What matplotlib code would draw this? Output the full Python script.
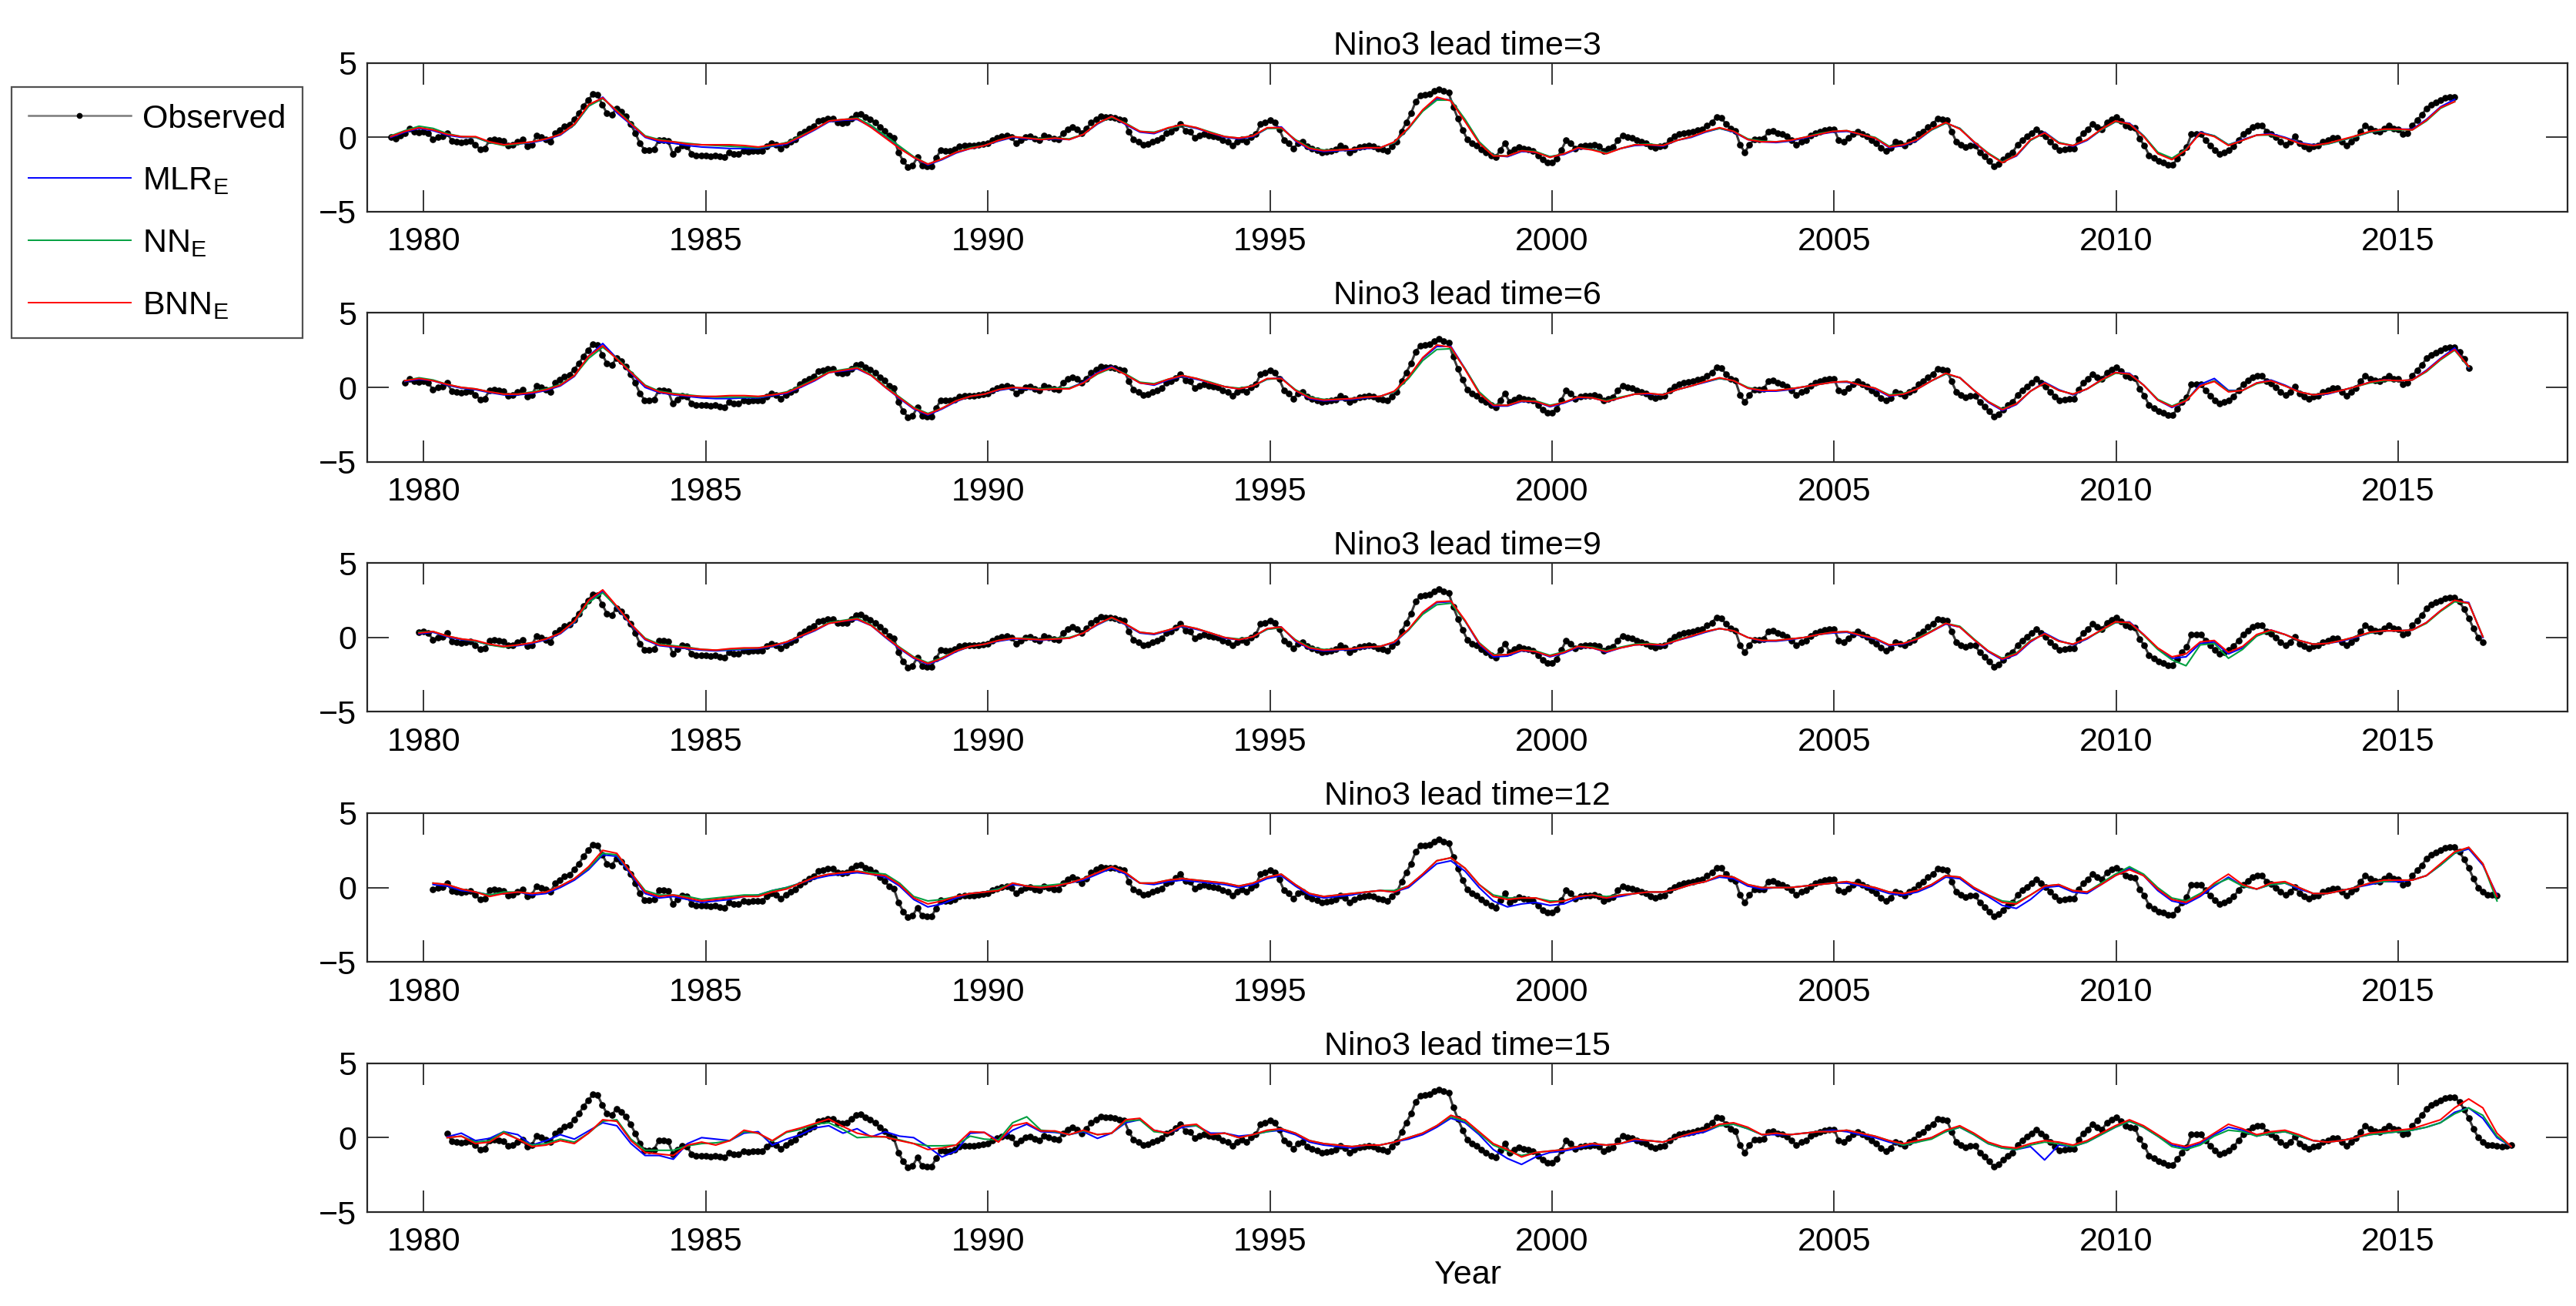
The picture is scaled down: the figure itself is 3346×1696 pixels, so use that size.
import numpy as np
import matplotlib
matplotlib.use("Agg")
import matplotlib.pyplot as plt
from matplotlib.lines import Line2D

plt.rcParams['font.family'] = ['Liberation Sans', 'DejaVu Sans']
plt.rcParams['mathtext.fontset'] = 'custom'
plt.rcParams['mathtext.rm'] = 'Liberation Sans'
plt.rcParams['mathtext.it'] = 'Liberation Sans:italic'

# ---------------- data ----------------
obs_start = 1979 + 5 / 12.0   # June 1979
n_months = 440                # months shown per panel
lead_times = [3, 6, 9, 12, 15]
xtick_years = [1980, 1985, 1990, 1995, 2000, 2005, 2010, 2015]
ytick_vals = [-5, 0, 5]

observed = [
    0.0, -0.1, 0.1, 0.3, 0.6, 0.4, 0.35,
    0.4, 0.3, -0.15, 0.0, 0.05, 0.3, -0.25, -0.3, -0.35, -0.3, -0.25, -0.5,
    -0.8, -0.75, -0.2, -0.15, -0.2, -0.25, -0.55, -0.5, -0.3, -0.15, -0.6, -0.5,
    0.1, 0.0, -0.15, -0.3, 0.3, 0.5, 0.75, 0.85, 1.2, 1.6, 2.1, 2.5,
    2.9, 2.85, 2.2, 1.6, 1.5, 1.95, 1.75, 1.4, 0.9, 0.3, -0.4, -0.85,
    -0.85, -0.8, -0.2, -0.2, -0.25, -1.1, -0.8, -0.55, -0.6, -1.1, -1.2, -1.2,
    -1.2, -1.25, -1.2, -1.3, -1.35, -1.0, -1.1, -1.1, -0.9, -0.95, -0.9, -0.9,
    -0.9, -0.6, -0.4, -0.5, -0.75, -0.5, -0.3, -0.15, 0.2, 0.4, 0.6, 0.75,
    1.1, 1.15, 1.25, 1.25, 1.0, 0.95, 1.0, 1.25, 1.5, 1.55, 1.35, 1.2,
    1.0, 0.7, 0.45, 0.1, -0.05, -1.0, -1.6, -2.0, -1.9, -1.35, -1.9, -1.95,
    -1.95, -1.4, -0.85, -0.9, -0.9, -0.8, -0.6, -0.55, -0.55, -0.55, -0.5, -0.45,
    -0.4, -0.2, -0.05, 0.05, 0.1, 0.0, -0.4, -0.2, 0.0, 0.05, -0.1, -0.2,
    0.1, 0.0, -0.1, -0.15, 0.3, 0.55, 0.7, 0.55, 0.3, 0.6, 1.0, 1.2,
    1.4, 1.35, 1.35, 1.3, 1.2, 1.15, 0.4, -0.15, -0.3, -0.5, -0.45, -0.3,
    -0.2, -0.05, 0.3, 0.4, 0.65, 0.9, 0.45, 0.4, -0.05, 0.1, 0.2, 0.1,
    0.05, 0.0, -0.2, -0.3, -0.55, -0.3, -0.15, -0.3, 0.0, 0.2, 0.9, 1.0,
    1.15, 1.0, 0.55, -0.2, -0.4, -0.75, -0.4, -0.3, -0.6, -0.75, -0.85, -1.0,
    -0.95, -0.9, -0.8, -0.55, -0.7, -1.0, -0.8, -0.65, -0.6, -0.55, -0.6, -0.75,
    -0.8, -0.9, -0.6, -0.3, 0.4, 1.0, 1.6, 2.4, 2.8, 2.85, 2.9, 3.1,
    3.25, 3.1, 3.0, 2.05, 1.25, 0.5, -0.15, -0.4, -0.55, -0.8, -1.0, -1.2,
    -1.35, -0.85, -0.4, -1.0, -0.8, -0.65, -0.75, -0.8, -0.9, -1.2, -1.5, -1.7,
    -1.7, -1.45, -0.85, -0.2, -0.4, -0.75, -0.6, -0.55, -0.55, -0.5, -0.6, -0.9,
    -0.75, -0.65, -0.2, 0.1, 0.0, -0.05, -0.2, -0.3, -0.4, -0.6, -0.7, -0.6,
    -0.55, -0.2, 0.05, 0.2, 0.3, 0.35, 0.4, 0.5, 0.55, 0.8, 1.0, 1.35,
    1.3, 0.9, 0.6, 0.45, -0.5, -1.0, -0.5, -0.15, -0.15, -0.1, 0.4, 0.45,
    0.3, 0.2, 0.05, -0.2, -0.5, -0.3, -0.2, 0.1, 0.3, 0.4, 0.5, 0.55,
    0.55, -0.2, -0.3, -0.05, 0.2, 0.4, 0.2, 0.05, -0.2, -0.4, -0.7, -0.9,
    -0.7, -0.3, -0.4, -0.55, -0.3, -0.15, 0.2, 0.4, 0.7, 0.9, 1.25, 1.2,
    1.15, 0.4, -0.3, -0.5, -0.65, -0.55, -0.55, -1.0, -1.3, -1.6, -1.95, -1.8,
    -1.5, -1.2, -1.0, -0.5, -0.2, 0.05, 0.3, 0.55, 0.3, 0.05, -0.3, -0.6,
    -0.85, -0.8, -0.75, -0.75, -0.15, 0.3, 0.55, 0.9, 0.7, 0.55, 1.0, 1.2,
    1.35, 1.1, 0.8, 0.7, 0.65, -0.1, -0.55, -1.2, -1.4, -1.6, -1.7, -1.85,
    -1.85, -1.45, -1.0, -0.65, 0.2, 0.2, 0.2, -0.2, -0.55, -0.85, -1.1, -1.0,
    -0.85, -0.6, -0.2, 0.2, 0.45, 0.7, 0.8, 0.8, 0.4, 0.25, 0.0, -0.3,
    -0.5, -0.3, 0.05, -0.4, -0.6, -0.75, -0.6, -0.55, -0.3, -0.2, -0.05, -0.05,
    -0.3, -0.55, -0.3, -0.05, 0.4, 0.8, 0.6, 0.45, 0.4, 0.6, 0.8, 0.6,
    0.55, 0.2, 0.3, 0.8, 1.15, 1.5, 1.95, 2.2, 2.35, 2.5, 2.65, 2.7,
    2.7, 2.4, 1.9, 1.3, 0.6, 0.0, -0.3, -0.5, -0.5, -0.55, -0.6, -0.55,
    -0.5,
]

# ---- lead 3 (quarterly, Jun 1979 - Dec 2015) ----
mlr_l3 = [
    0.0, 0.35, 0.6,
    0.45, 0.15, 0.0, 0.0,  -0.35, -0.5, -0.45, -0.35,  -0.15, 0.15, 0.85, 2.1,
    2.7, 1.65, 0.85, 0.0,  -0.3, -0.4, -0.55, -0.65,  -0.7, -0.75, -0.75, -0.75,
    -0.6, -0.45, 0.0, 0.5,  1.05, 1.15, 1.2, 0.7,  0.0, -0.7, -1.35, -1.85,
    -1.5, -1.05, -0.75, -0.55,  -0.25, 0.0, -0.1, -0.15,  -0.1, -0.15, 0.2, 0.9,
    1.4, 0.85, 0.35, 0.25,  0.6, 0.8, 0.6, 0.3,  0.0, -0.1, 0.05, 0.6,
    0.7, -0.25, -0.8, -0.95,  -0.9, -0.85, -0.75, -0.7,  -0.35, 0.6, 1.8, 2.6,
    2.5, 1.1, -0.35, -1.2,  -1.3, -0.95, -1.0, -1.3,  -1.15, -0.75, -0.8, -1.05,
    -0.75, -0.55, -0.5, -0.6,  -0.2, 0.0, 0.35, 0.6,  0.35, -0.15, -0.3, -0.35,
    -0.25, -0.05, 0.2, 0.35,  0.4, 0.2, -0.05, -0.7,  -0.55, -0.2, 0.5, 0.95,
    0.6, -0.35, -1.1, -1.65,  -1.25, -0.2, 0.35, -0.35,  -0.6, -0.2, 0.5, 1.05,
    0.95, 0.1, -1.05, -1.45,  -0.8, 0.35, 0.1, -0.5,  -0.15, 0.15, 0.25, 0.0,
    -0.35, -0.5, -0.45, -0.2,  0.05, 0.35, 0.5, 0.55,  0.55, 1.2, 2.05, 2.55,
]
nn_l3 = [
    0.1, 0.45, 0.75,
    0.6, 0.25, 0.05, 0.0,  -0.35, -0.55, -0.45, -0.3,  -0.1, 0.2, 0.85, 2.1,
    2.6, 1.8, 0.95, 0.1,  -0.15, -0.3, -0.4, -0.5,  -0.55, -0.6, -0.65, -0.7,
    -0.55, -0.35, 0.1, 0.55,  1.1, 1.2, 1.3, 0.8,  0.1, -0.6, -1.3, -1.8,
    -1.45, -1.0, -0.7, -0.55,  -0.2, 0.05, -0.05, -0.1,  -0.05, -0.1, 0.2, 0.95,
    1.35, 0.95, 0.4, 0.35,  0.6, 0.8, 0.65, 0.35,  0.05, -0.05, 0.1, 0.6,
    0.6, -0.15, -0.7, -0.85,  -0.85, -0.8, -0.7, -0.7,  -0.35, 0.6, 1.75, 2.5,
    2.5, 1.2, -0.3, -1.2,  -1.25, -0.9, -0.95, -1.3,  -1.1, -0.7, -0.8, -1.05,
    -0.75, -0.5, -0.45, -0.55,  -0.2, 0.05, 0.4, 0.6,  0.4, -0.1, -0.25, -0.3,
    -0.2, 0.0, 0.25, 0.4,  0.45, 0.2, 0.0, -0.6,  -0.5, -0.15, 0.5, 0.95,
    0.6, -0.3, -1.05, -1.65,  -1.2, -0.2, 0.3, -0.35,  -0.55, -0.15, 0.5, 1.05,
    0.9, 0.1, -1.0, -1.4,  -0.8, 0.3, 0.1, -0.5,  -0.2, 0.15, 0.15, -0.05,
    -0.4, -0.55, -0.45, -0.2,  0.05, 0.35, 0.5, 0.5,  0.5, 1.1, 1.95, 2.4,
]
bnn_l3 = [
    0.05, 0.4, 0.65,
    0.5, 0.2, 0.05, 0.05,  -0.3, -0.5, -0.4, -0.3,  -0.1, 0.2, 0.9, 2.2,
    2.65, 1.75, 0.9, 0.05,  -0.2, -0.3, -0.45, -0.5,  -0.5, -0.5, -0.55, -0.65,
    -0.5, -0.4, 0.05, 0.55,  1.1, 1.2, 1.25, 0.65,  -0.05, -0.75, -1.35, -1.8,
    -1.45, -1.0, -0.75, -0.55,  -0.2, 0.05, -0.05, -0.15,  -0.05, -0.15, 0.2, 0.95,
    1.4, 0.9, 0.4, 0.3,  0.65, 0.85, 0.65, 0.3,  0.05, -0.05, 0.1, 0.65,
    0.65, -0.2, -0.75, -0.9,  -0.85, -0.8, -0.7, -0.7,  -0.3, 0.65, 1.85, 2.7,
    2.45, 1.05, -0.4, -1.25,  -1.25, -0.9, -1.0, -1.35,  -1.1, -0.7, -0.85, -1.1,
    -0.75, -0.5, -0.5, -0.55,  -0.2, 0.05, 0.4, 0.65,  0.4, -0.15, -0.3, -0.3,
    -0.2, 0.0, 0.2, 0.4,  0.45, 0.2, -0.05, -0.65,  -0.5, -0.15, 0.55, 1.0,
    0.55, -0.3, -1.1, -1.7,  -1.2, -0.15, 0.3, -0.4,  -0.55, -0.15, 0.55, 1.1,
    0.9, 0.05, -1.1, -1.5,  -0.85, 0.3, 0.05, -0.55,  -0.2, 0.15, 0.2, -0.05,
    -0.4, -0.55, -0.4, -0.15,  0.1, 0.4, 0.55, 0.55,  0.5, 1.15, 2.0, 2.4,
]

# ---- lead 6 (quarterly, Sep 1979 - Mar 2016) ----
mlr_l6 = [
    0.4, 0.55,
    0.45, 0.15, -0.05, -0.15,  -0.35, -0.5, -0.5, -0.4,  -0.2, 0.1, 0.75, 2.1,
    2.95, 1.95, 0.95, 0.0,  -0.35, -0.5, -0.6, -0.7,  -0.75, -0.75, -0.7, -0.7,
    -0.55, -0.4, 0.0, 0.45,  1.0, 1.1, 1.25, 0.8,  0.0, -0.75, -1.45, -1.85,
    -1.45, -0.95, -0.6, -0.45,  -0.2, -0.05, -0.1, -0.15,  -0.1, -0.05, 0.35, 1.0,
    1.4, 0.85, 0.3, 0.15,  0.5, 0.75, 0.55, 0.3,  0.05, -0.1, 0.1, 0.55,
    0.65, -0.2, -0.75, -0.9,  -0.85, -0.8, -0.7, -0.6,  -0.3, 0.65, 1.95, 2.75,
    2.75, 1.25, -0.35, -1.25,  -1.25, -0.95, -0.95, -1.3,  -1.05, -0.7, -0.7, -0.95,
    -0.7, -0.45, -0.45, -0.5,  -0.15, 0.1, 0.35, 0.6,  0.45, -0.05, -0.25, -0.25,
    -0.15, 0.05, 0.2, 0.35,  0.35, 0.15, -0.1, -0.6,  -0.45, -0.1, 0.45, 0.9,
    0.65, -0.2, -1.0, -1.55,  -1.15, -0.25, 0.35, -0.15,  -0.5, -0.1, 0.5, 1.0,
    0.95, 0.15, -0.85, -1.35,  -0.9, 0.2, 0.6, -0.2,  -0.2, 0.3, 0.5, 0.15,
    -0.3, -0.5, -0.45, -0.2,  0.05, 0.35, 0.5, 0.45,  0.5, 1.15, 1.95, 2.65,
    1.3,
]
nn_l6 = [
    0.45, 0.65,
    0.5, 0.2, 0.0, -0.1,  -0.3, -0.45, -0.45, -0.3,  -0.1, 0.2, 0.8, 1.95,
    2.7, 1.95, 1.05, 0.15,  -0.25, -0.4, -0.5, -0.6,  -0.65, -0.65, -0.65, -0.65,
    -0.5, -0.3, 0.1, 0.55,  1.05, 1.2, 1.35, 0.85,  0.05, -0.65, -1.35, -1.75,
    -1.4, -0.9, -0.6, -0.45,  -0.15, 0.0, -0.05, -0.1,  -0.05, -0.05, 0.3, 0.9,
    1.3, 0.9, 0.35, 0.25,  0.55, 0.8, 0.6, 0.35,  0.05, -0.05, 0.1, 0.55,
    0.6, -0.15, -0.65, -0.8,  -0.8, -0.75, -0.65, -0.6,  -0.3, 0.6, 1.8, 2.55,
    2.6, 1.25, -0.3, -1.15,  -1.2, -0.9, -0.9, -1.2,  -1.0, -0.65, -0.7, -0.9,
    -0.65, -0.45, -0.4, -0.5,  -0.15, 0.1, 0.4, 0.6,  0.45, 0.0, -0.2, -0.2,
    -0.1, 0.05, 0.2, 0.35,  0.4, 0.15, -0.05, -0.5,  -0.4, -0.1, 0.45, 0.9,
    0.65, -0.2, -0.95, -1.45,  -1.1, -0.25, 0.3, -0.2,  -0.45, -0.1, 0.45, 0.95,
    0.9, 0.15, -0.8, -1.25,  -0.85, 0.1, 0.45, -0.25,  -0.2, 0.25, 0.45, 0.1,
    -0.3, -0.5, -0.4, -0.2,  0.05, 0.3, 0.45, 0.45,  0.5, 1.05, 1.85, 2.5,
    1.35,
]
bnn_l6 = [
    0.45, 0.6,
    0.45, 0.2, 0.0, -0.1,  -0.3, -0.45, -0.45, -0.35,  -0.15, 0.15, 0.8, 2.1,
    2.8, 1.9, 1.0, 0.1,  -0.3, -0.45, -0.55, -0.6,  -0.6, -0.55, -0.55, -0.6,
    -0.5, -0.35, 0.05, 0.5,  1.0, 1.15, 1.3, 0.8,  0.0, -0.7, -1.4, -1.8,
    -1.4, -0.9, -0.6, -0.45,  -0.15, 0.0, -0.05, -0.15,  -0.1, -0.1, 0.3, 0.95,
    1.35, 0.85, 0.3, 0.2,  0.55, 0.8, 0.6, 0.3,  0.05, -0.1, 0.1, 0.6,
    0.6, -0.2, -0.7, -0.85,  -0.8, -0.75, -0.65, -0.6,  -0.25, 0.7, 2.0, 2.85,
    2.7, 1.2, -0.4, -1.2,  -1.2, -0.9, -0.95, -1.25,  -1.0, -0.65, -0.7, -0.95,
    -0.7, -0.45, -0.4, -0.5,  -0.15, 0.1, 0.4, 0.65,  0.45, -0.05, -0.2, -0.2,
    -0.1, 0.05, 0.2, 0.35,  0.4, 0.15, -0.05, -0.55,  -0.45, -0.1, 0.45, 0.95,
    0.65, -0.2, -0.95, -1.5,  -1.1, -0.25, 0.3, -0.2,  -0.45, -0.1, 0.5, 1.0,
    0.9, 0.15, -0.85, -1.3,  -0.9, 0.1, 0.4, -0.3,  -0.2, 0.3, 0.45, 0.1,
    -0.3, -0.5, -0.4, -0.2,  0.05, 0.35, 0.5, 0.45,  0.5, 1.1, 1.9, 2.55,
    1.4,
]

# ---- lead 9 (quarterly, Dec 1979 - Jun 2016) ----
mlr_l9 = [
    0.25,
    0.35, 0.05, -0.15, -0.25,  -0.5, -0.6, -0.55, -0.4,  -0.15, 0.25, 1.0, 2.4,
    3.1, 2.0, 0.85, -0.15,  -0.55, -0.65, -0.75, -0.85,  -0.9, -0.85, -0.8, -0.75,
    -0.6, -0.35, 0.05, 0.45,  0.95, 1.1, 1.2, 0.8,  0.0, -0.75, -1.4, -1.8,
    -1.45, -0.95, -0.6, -0.45,  -0.25, -0.1, -0.1, -0.2,  -0.1, -0.05, 0.3, 0.85,
    1.3, 0.85, 0.3, 0.2,  0.45, 0.75, 0.55, 0.3,  -0.05, -0.15, 0.05, 0.55,
    0.7, -0.25, -0.75, -0.9,  -0.85, -0.8, -0.7, -0.6,  -0.35, 0.5, 1.65, 2.35,
    2.4, 1.1, -0.45, -1.3,  -1.25, -0.9, -0.95, -1.3,  -1.05, -0.65, -0.7, -1.0,
    -0.7, -0.5, -0.45, -0.55,  -0.2, 0.05, 0.35, 0.6,  0.45, 0.0, -0.25, -0.25,
    -0.15, 0.0, 0.2, 0.3,  0.35, 0.1, -0.1, -0.55,  -0.45, -0.1, 0.4, 0.9,
    0.7, -0.15, -0.95, -1.5,  -1.15, -0.3, 0.3, -0.2,  -0.5, -0.1, 0.5, 1.0,
    1.05, 0.2, -0.75, -1.4,  -1.3, -0.4, -0.3, -1.1,  -0.7, 0.1, 0.5, 0.2,
    -0.2, -0.45, -0.4, -0.25,  0.0, 0.3, 0.45, 0.45,  0.5, 1.0, 1.8, 2.45,
    2.35, 0.0,
]
nn_l9 = [
    0.35,
    0.4, 0.1, -0.1, -0.25,  -0.5, -0.65, -0.5, -0.35,  -0.1, 0.3, 1.05, 2.35,
    3.0, 2.05, 0.9, -0.05,  -0.45, -0.55, -0.65, -0.8,  -0.85, -0.8, -0.75, -0.7,
    -0.55, -0.3, 0.1, 0.5,  1.0, 1.15, 1.3, 0.85,  0.05, -0.65, -1.3, -1.7,
    -1.35, -0.9, -0.6, -0.45,  -0.2, -0.05, -0.05, -0.15,  -0.05, 0.0, 0.3, 0.9,
    1.3, 0.9, 0.35, 0.25,  0.5, 0.8, 0.6, 0.3,  0.0, -0.1, 0.05, 0.55,
    0.65, -0.15, -0.65, -0.8,  -0.8, -0.75, -0.65, -0.6,  -0.3, 0.5, 1.55, 2.2,
    2.3, 1.1, -0.35, -1.15,  -1.15, -0.85, -0.9, -1.2,  -0.95, -0.6, -0.65, -0.9,
    -0.65, -0.45, -0.4, -0.5,  -0.15, 0.1, 0.4, 0.6,  0.45, 0.0, -0.2, -0.2,
    -0.1, 0.0, 0.2, 0.35,  0.4, 0.15, -0.05, -0.5,  -0.4, -0.05, 0.45, 0.95,
    0.75, -0.1, -0.9, -1.4,  -1.05, -0.2, 0.25, -0.25,  -0.45, -0.05, 0.45, 1.0,
    1.0, 0.15, -0.8, -1.5,  -1.9, -0.5, -0.4, -1.4,  -0.8, 0.1, 0.45, 0.2,
    -0.2, -0.45, -0.4, -0.2,  0.05, 0.3, 0.45, 0.45,  0.5, 0.95, 1.75, 2.4,
    2.3, 0.05,
]
bnn_l9 = [
    0.3,
    0.4, 0.1, -0.1, -0.2,  -0.45, -0.6, -0.5, -0.35,  -0.1, 0.3, 1.1, 2.5,
    3.2, 2.1, 0.9, -0.1,  -0.5, -0.6, -0.7, -0.8,  -0.85, -0.75, -0.7, -0.7,
    -0.55, -0.3, 0.1, 0.5,  0.95, 1.1, 1.25, 0.8,  0.05, -0.7, -1.35, -1.75,
    -1.4, -0.9, -0.6, -0.45,  -0.2, -0.05, -0.1, -0.15,  -0.1, -0.05, 0.3, 0.9,
    1.35, 0.9, 0.35, 0.25,  0.5, 0.8, 0.6, 0.3,  0.0, -0.15, 0.05, 0.6,
    0.7, -0.2, -0.7, -0.85,  -0.8, -0.75, -0.65, -0.6,  -0.3, 0.55, 1.7, 2.4,
    2.45, 1.15, -0.4, -1.2,  -1.15, -0.85, -0.95, -1.25,  -1.0, -0.6, -0.7, -0.95,
    -0.7, -0.5, -0.45, -0.5,  -0.2, 0.1, 0.4, 0.6,  0.45, 0.0, -0.2, -0.2,
    -0.1, 0.0, 0.2, 0.35,  0.4, 0.15, -0.05, -0.5,  -0.4, -0.1, 0.4, 0.95,
    0.7, -0.15, -0.9, -1.45,  -1.1, -0.25, 0.25, -0.25,  -0.45, -0.05, 0.5, 1.05,
    1.0, 0.2, -0.7, -1.3,  -1.1, -0.3, -0.2, -1.0,  -0.6, 0.2, 0.5, 0.2,
    -0.2, -0.45, -0.4, -0.2,  0.05, 0.35, 0.45, 0.45,  0.5, 1.0, 1.8, 2.5,
    2.3, 0.05,
]

# ---- lead 12 (quarterly, Mar 1980 - Sep 2016) ----
mlr_l12 = [
    0.2, 0.1, -0.2, -0.3,  -0.5, -0.4, -0.3, -0.5,  -0.4, 0.0, 0.5, 1.2,
    2.2, 2.1, 0.9, -0.4,  -0.7, -0.6, -0.8, -1.0,  -0.9, -0.8, -0.6, -0.5,
    -0.2, 0.0, 0.3, 0.6,  0.8, 0.9, 1.0, 0.9,  0.7, 0.1, -0.8, -1.3,
    -1.1, -0.7, -0.4, -0.3,  -0.1, 0.2, 0.1, 0.0,  0.1, 0.3, 0.5, 0.9,
    1.3, 0.9, 0.3, 0.2,  0.4, 0.5, 0.4, 0.3,  0.2, 0.0, 0.2, 0.6,
    0.8, 0.1, -0.5, -0.7,  -0.6, -0.5, -0.3, -0.2,  -0.3, 0.0, 0.8, 1.6,
    1.8, 1.1, 0.0, -0.9,  -1.3, -1.1, -1.0, -1.2,  -1.1, -0.7, -0.5, -0.7,
    -0.6, -0.4, -0.3, -0.3,  -0.1, 0.2, 0.4, 0.7,  0.6, 0.1, -0.1, 0.0,
    0.0, 0.1, 0.2, 0.3,  0.3, 0.1, -0.1, -0.4,  -0.5, -0.3, 0.1, 0.7,
    0.6, -0.1, -0.6, -1.2,  -1.4, -0.8, 0.0, 0.1,  -0.3, -0.4, 0.2, 0.8,
    1.3, 0.8, -0.2, -0.9,  -1.1, -0.6, 0.1, 0.7,  0.1, -0.1, 0.2, 0.3,
    -0.1, -0.4, -0.4, -0.2,  0.0, 0.2, 0.4, 0.4,  0.5, 0.8, 1.5, 2.3,
    2.6, 1.5, -0.5,
]
nn_l12 = [
    0.3, 0.2, -0.1, -0.3,  -0.5, -0.3, -0.3, -0.4,  -0.3, 0.1, 0.6, 1.3,
    2.3, 2.2, 1.0, -0.2,  -0.5, -0.5, -0.6, -0.8,  -0.7, -0.6, -0.5, -0.5,
    -0.2, 0.0, 0.3, 0.7,  0.9, 1.0, 1.1, 1.0,  0.9, 0.3, -0.6, -0.9,
    -0.8, -0.6, -0.4, -0.3,  -0.1, 0.3, 0.1, 0.1,  0.2, 0.3, 0.6, 1.0,
    1.4, 1.0, 0.3, 0.3,  0.5, 0.6, 0.5, 0.4,  0.3, 0.1, 0.3, 0.7,
    0.9, 0.2, -0.4, -0.6,  -0.5, -0.4, -0.3, -0.2,  -0.2, 0.1, 0.9, 1.8,
    2.0, 1.3, 0.2, -0.5,  -0.7, -0.7, -0.7, -0.9,  -0.9, -0.6, -0.5, -0.6,
    -0.5, -0.4, -0.3, -0.3,  -0.1, 0.2, 0.4, 0.8,  0.7, 0.2, 0.0, 0.0,
    0.0, 0.1, 0.2, 0.3,  0.4, 0.2, 0.0, -0.3,  -0.4, -0.2, 0.2, 0.8,
    0.7, 0.0, -0.5, -0.9,  -1.0, -0.5, 0.1, 0.2,  -0.2, -0.3, 0.3, 0.9,
    1.4, 0.9, 0.0, -0.7,  -0.9, -0.4, 0.2, 0.6,  0.1, -0.1, 0.2, 0.3,
    0.0, -0.4, -0.4, -0.2,  0.0, 0.3, 0.4, 0.5,  0.5, 0.8, 1.5, 2.3,
    2.7, 1.6, -0.9,
]
bnn_l12 = [
    0.3, 0.2, -0.1, -0.3,  -0.6, -0.4, -0.3, -0.4,  -0.3, 0.1, 0.6, 1.4,
    2.5, 2.3, 1.0, -0.3,  -0.6, -0.5, -0.7, -0.9,  -0.8, -0.7, -0.6, -0.6,
    -0.3, -0.1, 0.3, 0.7,  0.9, 1.0, 1.1, 0.9,  0.8, 0.2, -0.7, -1.1,
    -0.9, -0.6, -0.4, -0.3,  -0.2, 0.3, 0.1, 0.0,  0.1, 0.3, 0.6, 1.0,
    1.4, 1.0, 0.3, 0.3,  0.5, 0.6, 0.5, 0.4,  0.3, 0.1, 0.3, 0.7,
    0.9, 0.2, -0.4, -0.6,  -0.5, -0.4, -0.3, -0.2,  -0.3, 0.1, 0.9, 1.8,
    2.0, 1.3, 0.2, -0.6,  -0.8, -0.7, -0.7, -1.0,  -0.9, -0.6, -0.5, -0.7,
    -0.5, -0.4, -0.3, -0.3,  -0.1, 0.2, 0.4, 0.8,  0.7, 0.2, 0.0, 0.0,
    0.0, 0.1, 0.2, 0.3,  0.4, 0.2, 0.0, -0.3,  -0.4, -0.2, 0.2, 0.8,
    0.7, 0.0, -0.5, -1.0,  -1.1, -0.5, 0.1, 0.2,  -0.2, -0.3, 0.2, 0.8,
    1.2, 0.8, -0.1, -0.8,  -1.0, -0.5, 0.3, 0.9,  0.2, -0.1, 0.3, 0.4,
    0.0, -0.4, -0.4, -0.2,  0.0, 0.3, 0.5, 0.5,  0.5, 0.8, 1.6, 2.4,
    2.7, 1.6, -0.6,
]

# ---- lead 15 (quarterly, Jun 1980 - Dec 2016) ----
mlr_l15 = [
    0.05, 0.3, -0.2,
    -0.05, 0.4, 0.2, -0.5,  -0.2, 0.2, -0.1, 0.45,  1.0, 0.8, -0.4, -1.2,
    -1.2, -1.45, -0.4, 0.0,  -0.1, -0.2, 0.3, 0.4,  -0.5, -0.1, 0.2, 0.65,
    0.8, 0.3, 0.6, 0.05,  0.4, 0.1, 0.0, -0.6,  -1.3, -0.9, 0.3, 0.35,
    -0.2, 0.5, 0.9, 0.4,  0.35, 0.2, 0.4, -0.05,  0.3, 1.0, 1.2, 0.5,
    0.3, 0.7, 0.8, 0.3,  0.3, 0.1, 0.2, 0.4,  0.5, 0.2, -0.3, -0.5,
    -0.6, -0.7, -0.5, -0.5,  -0.3, -0.1, 0.2, 0.7,  1.3, 1.0, 0.2, -0.8,
    -1.4, -1.8, -1.3, -1.0,  -0.9, -0.7, -0.5, -0.5,  -0.4, -0.2, -0.2, -0.3,
    0.0, 0.2, 0.4, 0.8,  0.9, 0.6, 0.2, 0.2,  0.2, 0.3, 0.4, 0.5,
    0.4, 0.2, 0.0, -0.3,  -0.5, -0.3, 0.0, 0.4,  0.7, 0.2, -0.4, -0.7,
    -0.8, -0.6, -1.5, -0.5,  -0.6, -0.3, 0.2, 0.7,  1.1, 0.7, 0.1, -0.5,
    -0.7, -0.4, 0.2, 0.7,  0.5, 0.1, 0.3, 0.4,  0.1, -0.2, -0.3, -0.2,
    0.0, 0.2, 0.3, 0.4,  0.5, 0.7, 1.0, 1.7,  2.0, 1.3, 0.0, -0.6,
]
nn_l15 = [
    0.0, 0.1, -0.3,
    -0.2, 0.4, -0.1, -0.5,  -0.4, -0.1, -0.3, 0.3,  1.1, 1.2, -0.1, -0.85,
    -0.85, -0.85, -0.55, -0.4,  -0.35, -0.2, 0.4, 0.3,  -0.25, 0.35, 0.55, 0.9,
    1.0, 0.55, 0.0, 0.05,  0.05, -0.15, -0.4, -0.55,  -0.55, -0.5, 0.1, -0.1,
    -0.15, 1.0, 1.4, 0.5,  0.4, 0.2, 0.45, 0.2,  0.3, 1.1, 1.2, 0.4,
    0.3, 0.8, 0.8, 0.2,  0.3, 0.0, 0.2, 0.4,  0.6, 0.3, -0.2, -0.4,
    -0.5, -0.6, -0.5, -0.5,  -0.3, 0.0, 0.3, 0.8,  1.4, 1.1, 0.3, -0.5,
    -0.9, -1.2, -1.0, -0.9,  -0.8, -0.6, -0.4, -0.5,  -0.4, -0.1, -0.2, -0.3,
    0.0, 0.3, 0.5, 0.8,  0.9, 0.6, 0.2, 0.3,  0.2, 0.3, 0.4, 0.4,
    0.5, 0.3, 0.1, -0.2,  -0.5, -0.3, -0.1, 0.4,  0.7, 0.2, -0.4, -0.7,
    -0.8, -0.5, -0.3, -0.4,  -0.6, -0.3, 0.2, 0.7,  1.1, 0.7, 0.1, -0.6,
    -0.8, -0.5, 0.1, 0.5,  0.4, 0.1, 0.3, 0.4,  0.1, -0.2, -0.3, -0.2,
    0.0, 0.2, 0.3, 0.4,  0.5, 0.7, 1.0, 1.6,  2.0, 1.5, 0.1, -0.6,
]
bnn_l15 = [
    0.0, 0.1, -0.4,
    -0.3, 0.3, -0.1, -0.6,  -0.5, -0.2, -0.4, 0.3,  1.2, 1.1, -0.2, -1.0,
    -1.1, -1.2, -0.5, -0.3,  -0.5, -0.2, 0.5, 0.3,  -0.2, 0.4, 0.65, 0.95,
    1.25, 0.75, 0.3, 0.1,  0.05, -0.2, -0.4, -0.8,  -0.7, -0.5, 0.4, 0.35,
    -0.3, 0.8, 1.0, 0.45,  0.45, 0.2, 0.5, 0.2,  0.3, 1.2, 1.3, 0.5,
    0.3, 0.8, 0.9, 0.2,  0.3, 0.0, 0.2, 0.5,  0.6, 0.3, -0.2, -0.4,
    -0.5, -0.6, -0.5, -0.5,  -0.3, 0.0, 0.3, 0.8,  1.5, 1.2, 0.4, -0.4,
    -0.8, -1.3, -1.0, -0.9,  -0.8, -0.6, -0.4, -0.5,  -0.4, -0.1, -0.2, -0.3,
    0.0, 0.3, 0.5, 0.9,  1.0, 0.7, 0.2, 0.3,  0.2, 0.3, 0.4, 0.4,
    0.5, 0.3, 0.1, -0.2,  -0.4, -0.2, 0.0, 0.5,  0.8, 0.3, -0.3, -0.6,
    -0.7, -0.4, -0.2, -0.3,  -0.5, -0.2, 0.3, 0.8,  1.2, 0.8, 0.2, -0.4,
    -0.6, -0.3, 0.3, 0.9,  0.6, 0.2, 0.4, 0.5,  0.2, -0.2, -0.3, -0.2,
    0.0, 0.3, 0.4, 0.5,  0.6, 0.9, 1.2, 2.0,  2.6, 2.0, 0.3, -0.6,
]

mlr_series = [mlr_l3, mlr_l6, mlr_l9, mlr_l12, mlr_l15]
nn_series = [nn_l3, nn_l6, nn_l9, nn_l12, nn_l15]
bnn_series = [bnn_l3, bnn_l6, bnn_l9, bnn_l12, bnn_l15]

# ---------------- style ----------------
W, H = 3346, 1696
DPI = 100
c_obs_line = '#3a3a3a'
c_obs_leg = '#7a7a7a'
c_mlr = '#0000ff'
c_nn = '#00a040'
c_bnn = '#ff0000'
spine_c = '#262626'
fs = 31

fig = plt.figure(figsize=(W / DPI, H / DPI), dpi=DPI)
fig.patch.set_facecolor('white')

ax_left = 477 / W
ax_w = (3335 - 477) / W
ax_h = 193.3 / H
top0 = 81.7
step = 324.75

axes = []
for i, L in enumerate(lead_times):
    top_px = top0 + i * step
    bottom = 1 - (top_px + 193.3) / H
    ax = fig.add_axes([ax_left, bottom, ax_w, ax_h])
    axes.append(ax)
    off = L - 3
    y_obs = np.array(observed[off:off + n_months])
    t_obs = obs_start + (np.arange(len(y_obs)) + off) / 12.0
    t0, t1 = t_obs[0], t_obs[-1]

    ax.plot(t_obs, y_obs, color=c_obs_line, lw=2.2, marker='o', ms=5.2,
            mfc='black', mec='black', zorder=2)
    for vals, col in [(mlr_series[i], c_mlr), (nn_series[i], c_nn), (bnn_series[i], c_bnn)]:
        x = np.linspace(t0, t1, len(vals))
        ax.plot(x, vals, color=col, lw=1.5, zorder=3)

    ax.set_xlim(1979, 2018)
    ax.set_ylim(-5, 5)
    ax.set_xticks(xtick_years)
    ax.set_yticks(ytick_vals)
    ax.set_yticklabels(['\u22125', '0', '5'])
    ax.tick_params(axis='both', direction='in', length=20, width=1.3,
                   color=spine_c, labelsize=fs, top=True, right=True)
    ax.tick_params(axis='x', pad=14)
    ax.tick_params(axis='y', pad=10)
    for sp in ax.spines.values():
        sp.set_color(spine_c)
        sp.set_linewidth(1.6)
    ax.set_title(f'Nino3 lead time={L}', fontsize=fs, pad=8)

axes[-1].set_xlabel('Year', fontsize=fs, labelpad=2)

handles = [
    Line2D([], [], color=c_obs_leg, lw=1.8, marker='o', ms=4.5, mfc='black', mec='black'),
    Line2D([], [], color=c_mlr, lw=1.4),
    Line2D([], [], color=c_nn, lw=1.4),
    Line2D([], [], color=c_bnn, lw=1.4),
]
labels = ['Observed', r'MLR$_{\mathrm{E}}$', r'NN$_{\mathrm{E}}$', r'BNN$_{\mathrm{E}}$']
leg = fig.legend(handles, labels, loc='upper left',
                 bbox_to_anchor=(15 / W, 1 - 113 / H), fontsize=fs,
                 frameon=True, fancybox=False, shadow=False,
                 handlelength=3.1, handletextpad=0.35, labelspacing=0.95,
                 borderpad=0.5, borderaxespad=0.0, markerscale=1.0)
leg.get_frame().set_edgecolor(spine_c)
leg.get_frame().set_linewidth(1.6)

fig.savefig('out.png', dpi=DPI, facecolor='white')
